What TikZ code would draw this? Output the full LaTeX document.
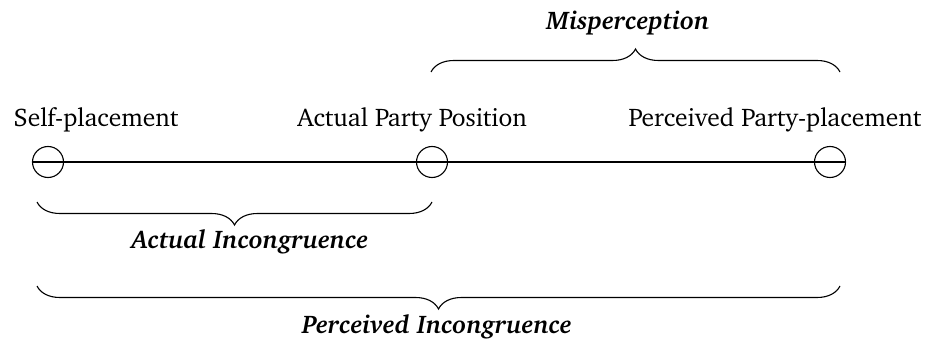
\documentclass[tikz,border=0pt]{standalone}
\usepackage[T1]{fontenc}
\usepackage{charter}
\usetikzlibrary{decorations.pathreplacing}
\tikzset{
  pt/.style={circle,draw,line width=1.1pt,minimum size=31pt,inner sep=0pt},
  lbl/.style={font=\fontsize{25.5}{30}\selectfont,anchor=base},
  blbl/.style={font=\fontsize{25.5}{30}\selectfont\bfseries\itshape,anchor=base},
  brc/.style={decorate,decoration={brace,amplitude=23pt},line width=1.1pt}
}
\begin{document}
\begin{tikzpicture}[x=1pt,y=-1pt]
\useasboundingbox (0,0) rectangle (933,339);
\node[pt] (s) at (48,162) {};
\node[pt] (a) at (432,162) {};
\node[pt] (p) at (830,162) {};
\draw[line width=1.1pt] (s.west) -- (p.east);
\node[lbl] (ls) at (96,127) {Self-placement};
\node[lbl] (la) at (412,127) {Actual Party Position};
\node[lbl] (lp) at (775,127) {Perceived Party-placement};
\coordinate (m1) at (431,72);
\coordinate (m2) at (840,72);
\draw[brc] (m1) -- (m2);
\node[blbl] (lm) at (628,30) {Misperception};
\coordinate (i1) at (37,202);
\coordinate (i2) at (432,202);
\draw[brc,decoration={mirror}] (i1) -- (i2);
\node[blbl] (li) at (250,248) {Actual Incongruence};
\coordinate (q1) at (37,286);
\coordinate (q2) at (840,286);
\draw[brc,decoration={mirror}] (q1) -- (q2);
\node[blbl] (lq) at (437,333) {Perceived Incongruence};
\end{tikzpicture}
\end{document}
